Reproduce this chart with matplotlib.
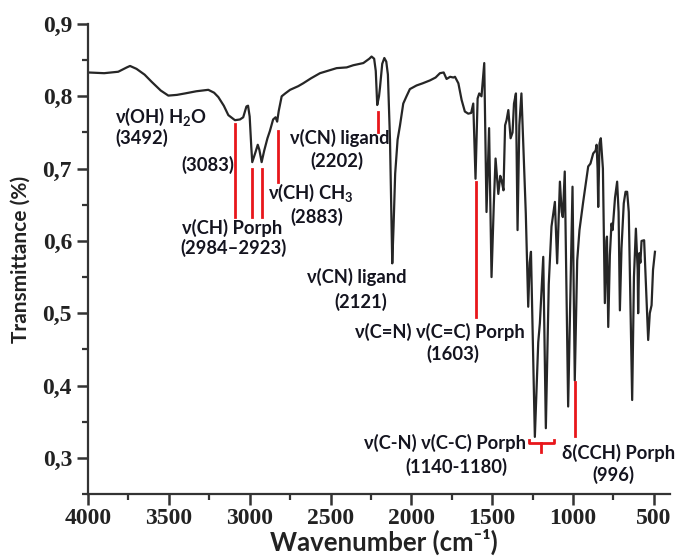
import matplotlib
matplotlib.use("Agg")
import matplotlib.pyplot as plt
from matplotlib.ticker import MultipleLocator, FuncFormatter

plt.rcParams['mathtext.fontset'] = 'custom'
plt.rcParams['mathtext.rm'] = 'Lato'
plt.rcParams['mathtext.bf'] = 'Lato:bold'

# ---- spectrum (wavenumber cm-1, transmittance) ----
wavenumber = [4000, 3900, 3813, 3760, 3740, 3700, 3650, 3606, 3550, 3503, 3450, 3400,
              3330, 3256, 3220, 3194, 3160, 3132, 3091, 3060, 3040, 3020, 3010, 3000,
              2990, 2984, 2965, 2950, 2940, 2926, 2910, 2890, 2875, 2855, 2840, 2830,
              2820, 2802, 2780, 2750, 2700, 2669, 2620, 2565, 2520, 2462, 2400, 2359,
              2297, 2260, 2246, 2230, 2220, 2211, 2200, 2194, 2180, 2167, 2155, 2145,
              2132, 2118, 2110, 2100, 2085, 2070, 2050, 2030, 2009, 1968, 1930, 1885,
              1850, 1823, 1800, 1782, 1760, 1740, 1730, 1709, 1689, 1669, 1648, 1630,
              1617, 1603, 1590, 1580, 1566, 1549, 1535, 1519, 1504, 1490, 1479, 1462,
              1450, 1442, 1430, 1420, 1411, 1400, 1386, 1374, 1365, 1353, 1343, 1332,
              1319, 1292, 1277, 1268, 1260, 1236, 1215, 1205, 1184, 1168, 1150, 1133,
              1112, 1098, 1081, 1070, 1063, 1051, 1030, 1003, 989, 974, 960, 937,
              906, 892, 875, 860, 854, 848, 844, 836, 828, 815, 803, 793,
              790, 782, 772, 762, 755, 740, 727, 718, 710, 700, 686, 675,
              665, 655, 634, 623, 611, 600, 597, 590, 583, 576, 560, 545,
              535, 525, 514, 505, 493]
transmittance = [0.833, 0.832, 0.834, 0.840, 0.842, 0.838, 0.830, 0.820, 0.808, 0.801, 0.802, 0.804,
                 0.807, 0.809, 0.805, 0.799, 0.787, 0.774, 0.767, 0.768, 0.771, 0.786, 0.787, 0.772,
                 0.730, 0.709, 0.722, 0.733, 0.726, 0.709, 0.725, 0.742, 0.752, 0.768, 0.771, 0.765,
                 0.780, 0.800, 0.804, 0.809, 0.814, 0.818, 0.825, 0.832, 0.835, 0.839, 0.840, 0.843,
                 0.846, 0.852, 0.855, 0.852, 0.835, 0.788, 0.800, 0.812, 0.845, 0.853, 0.848, 0.830,
                 0.740, 0.569, 0.620, 0.693, 0.740, 0.760, 0.790, 0.800, 0.810, 0.815, 0.818, 0.822,
                 0.826, 0.832, 0.833, 0.824, 0.827, 0.826, 0.827, 0.818, 0.795, 0.779, 0.776, 0.777,
                 0.790, 0.686, 0.797, 0.804, 0.800, 0.846, 0.640, 0.756, 0.550, 0.650, 0.714, 0.665,
                 0.690, 0.684, 0.670, 0.760, 0.767, 0.781, 0.742, 0.750, 0.790, 0.804, 0.615, 0.760,
                 0.804, 0.638, 0.509, 0.570, 0.585, 0.329, 0.460, 0.486, 0.578, 0.341, 0.540, 0.620,
                 0.654, 0.569, 0.682, 0.640, 0.633, 0.696, 0.371, 0.675, 0.407, 0.573, 0.615, 0.654,
                 0.703, 0.707, 0.721, 0.725, 0.733, 0.700, 0.647, 0.735, 0.742, 0.700, 0.514, 0.600,
                 0.606, 0.481, 0.580, 0.624, 0.615, 0.660, 0.682, 0.640, 0.504, 0.590, 0.652, 0.668,
                 0.668, 0.640, 0.380, 0.550, 0.617, 0.560, 0.500, 0.583, 0.570, 0.600, 0.601, 0.520,
                 0.463, 0.500, 0.511, 0.560, 0.585]

# ---- band markers: (wavenumber, top T, bottom T) ----
marker_wn = [3089, 2988, 2924, 2827, 2205, 1603, 985]
marker_top = [0.762, 0.699, 0.699, 0.752, 0.779, 0.682, 0.405]
marker_bottom = [0.633, 0.633, 0.633, 0.682, 0.751, 0.495, 0.330]

# bracket for 1140-1180 band
bracket_wn = [1271, 1199, 1118]
bracket_T = [0.325, 0.320, 0.308]

# ---- annotations: text, wavenumber, T, horizontal alignment ----
labels = ["ν(OH) H$_\\mathbf{2}$O", "(3492)", "(3083)", "ν(CH) Porph", "(2984–2923)",
          "ν(CH) CH$_\\mathbf{3}$", "(2883)", "ν(CN) ligand", "(2202)",
          "ν(CN) ligand", "(2121)", "ν(C=N) ν(C=C) Porph", "(1603)",
          "ν(C-N) ν(C-C) Porph", "(1140-1180)", "δ(CCH) Porph", "(996)"]
label_wn = [3833, 3833, 3258, 3106, 3097, 2621, 2586, 2442, 2462,
            2337, 2310, 1823, 1745, 1789, 1724, 370, 752]
label_T = [0.772, 0.742, 0.705, 0.618, 0.590, 0.666, 0.633, 0.742, 0.710,
           0.550, 0.516, 0.474, 0.444, 0.320, 0.288, 0.307, 0.276]
label_ha = ["left", "left", "center", "center", "center", "center", "center", "center", "center",
            "center", "center", "center", "center", "center", "center", "right", "center"]

fig = plt.figure(figsize=(6.78, 5.56), dpi=100)
ax = fig.add_axes([0.1298, 0.1115, 0.8584, 0.8453])

ax.plot(wavenumber, transmittance, color='#262626', lw=1.6, solid_joinstyle='round')

red = '#e8161b'
for w, t0, t1 in zip(marker_wn, marker_top, marker_bottom):
    ax.plot([w, w], [t0, t1], color=red, lw=2)
ax.plot([bracket_wn[0], bracket_wn[0], bracket_wn[2], bracket_wn[2]],
        [bracket_T[0], bracket_T[1], bracket_T[1], bracket_T[0]], color=red, lw=2)
ax.plot([bracket_wn[1], bracket_wn[1]], [bracket_T[1], bracket_T[2]], color=red, lw=2)

for s, w, t, ha in zip(labels, label_wn, label_T, label_ha):
    ax.text(w, t, s, ha=ha, va='center', fontsize=13.2, fontweight='bold',
            family=['Lato', 'DejaVu Sans'], color='#14141f')

ax.set_xlim(4000, 400)
ax.set_ylim(0.25, 0.9)
ax.xaxis.set_major_locator(MultipleLocator(500))
ax.xaxis.set_minor_locator(MultipleLocator(250))
ax.yaxis.set_major_locator(MultipleLocator(0.1))
ax.yaxis.set_minor_locator(MultipleLocator(0.05))
ax.xaxis.set_major_formatter(FuncFormatter(lambda v, p: f"{int(round(v))}" if v >= 500 else ""))
ax.yaxis.set_major_formatter(FuncFormatter(lambda v, p: f"{v:.1f}".replace('.', ',')))

for s in ['top', 'right']:
    ax.spines[s].set_visible(False)
for s in ['left', 'bottom']:
    ax.spines[s].set_linewidth(1.6)
    ax.spines[s].set_color('#333333')
ax.tick_params(which='major', length=8, width=1.8, color='#333333', direction='out')
ax.tick_params(which='minor', length=4, width=1.6, color='#333333', direction='out')
ax.tick_params(axis='x', which='major', pad=2)
for lab in ax.get_xticklabels() + ax.get_yticklabels():
    lab.set_family('Liberation Serif')
    lab.set_fontweight('bold')
    lab.set_fontsize(17)
    lab.set_color('#222222')

ax.set_ylabel("Transmittance (%)", fontsize=15, fontweight='bold', family='Lato',
              color='#222222')
ax.yaxis.set_label_coords(-0.098, 0.5)
ax.set_xlabel("Wavenumber (cm⁻¹)", fontsize=18.5, fontweight='bold',
              family=['Lato', 'DejaVu Sans'], color='#222222', va='bottom')
ax.xaxis.set_label_coords(0.509, -0.1305)

fig.savefig('out.png', dpi=100)
